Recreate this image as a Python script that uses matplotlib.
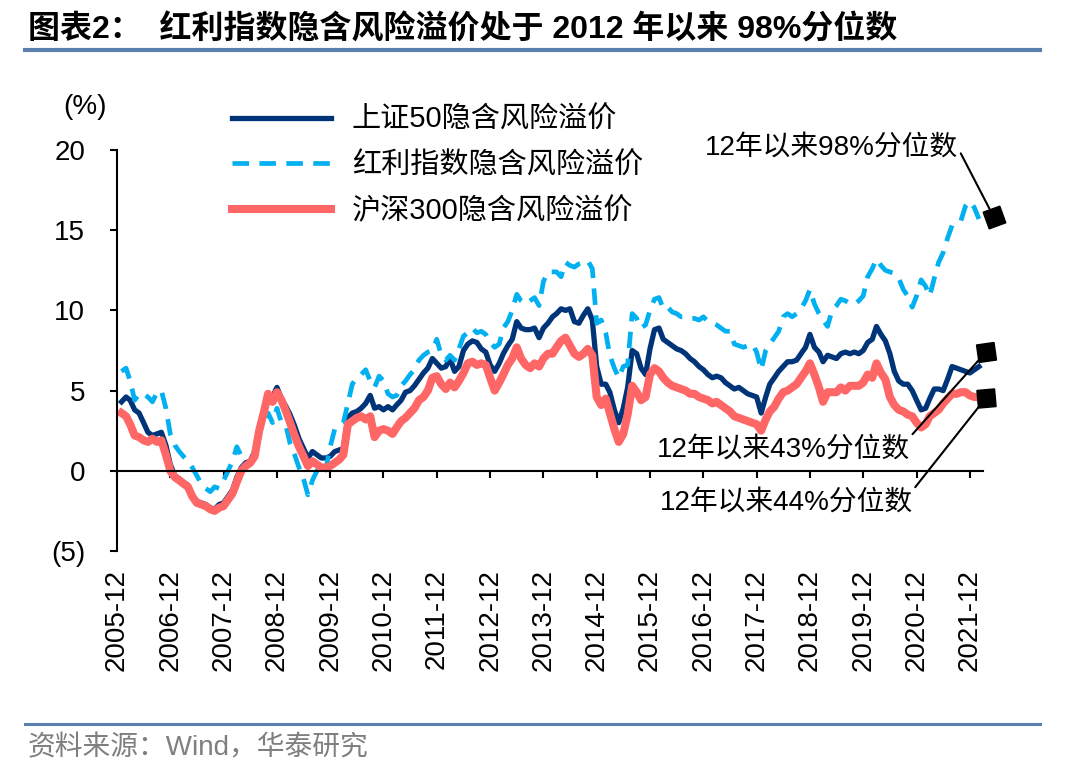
import matplotlib
matplotlib.use("Agg")
import matplotlib.pyplot as plt
import pandas as pd
from matplotlib.lines import Line2D

plt.rcParams["font.family"] = ["Liberation Sans", "Noto Sans CJK SC"]

# monthly readings, 2006-01 .. 2022-02 (%)
sse50 = [
    4.3, 4.6, 4.4, 3.8, 3.6, 3.0, 2.4, 2.2, 2.3, 2.4, 1.6, 0.4,
    -0.3, -0.5, -0.7, -0.9, -1.6, -1.9, -2.0, -2.1, -2.3, -2.4, -2.1, -2.0,
    -1.6, -1.2, -0.4, 0.2, 0.5, 0.6, 1.2, 2.6, 3.7, 4.5, 4.6, 5.2,
    4.5, 4.0, 3.5, 2.8, 2.0, 1.4, 0.8, 1.2, 1.0, 0.8, 0.8, 0.9,
    1.2, 1.3, 1.4, 3.3, 3.6, 3.7, 3.9, 4.2, 4.7, 3.9, 4.0, 3.8,
    4.0, 3.8, 4.1, 4.4, 4.9, 5.0, 5.3, 5.7, 6.1, 6.4, 7.0, 6.7,
    6.4, 6.5, 7.0, 6.2, 6.5, 7.5, 7.9, 8.1, 8.0, 7.6, 7.4, 6.6,
    6.2, 6.7, 7.3, 7.8, 8.2, 9.3, 8.9, 8.8, 8.8, 8.9, 8.3, 8.9,
    9.2, 9.6, 9.8, 10.1, 10.0, 10.1, 9.3, 9.2, 9.7, 10.1, 9.4, 6.5,
    5.4, 5.4, 4.9, 3.8, 3.0, 3.9, 5.2, 7.5, 7.3, 6.4, 6.0, 7.6,
    8.8, 8.9, 8.2, 8.0, 7.8, 7.6, 7.5, 7.3, 7.0, 6.8, 6.5, 6.3,
    6.0, 5.8, 5.9, 5.8, 5.5, 5.3, 5.1, 5.2, 5.0, 4.8, 4.7, 4.6,
    3.6, 4.6, 5.4, 5.8, 6.2, 6.5, 6.8, 6.8, 6.9, 7.3, 7.7, 8.5,
    7.7, 7.4, 6.8, 7.2, 7.1, 7.0, 7.3, 7.4, 7.3, 7.4, 7.3, 7.5,
    8.0, 8.2, 9.0, 8.5, 8.1, 7.3, 6.2, 5.6, 5.4, 5.4, 5.0, 4.4,
    3.8, 3.9, 4.5, 5.1, 5.1, 5.0, 5.7, 6.5, 6.4, 6.3, 6.2, 6.1,
    6.3, 6.5,
]
dividend = [
    6.2, 6.4, 5.6, 4.4, 4.8, 4.8, 4.6, 4.3, 4.9, 5.0, 3.9, 2.3,
    1.6, 1.2, 0.9, 0.6, 0.2, -0.3, -0.8, -1.1, -1.3, -1.0, -1.1, -0.6,
    0.0, 0.6, 1.5, 0.9, 0.6, 0.4, 0.9, 2.2, 3.2, 3.6, 3.0, 3.9,
    3.0, 2.8, 1.7, 1.0, 0.2, -0.5, -1.5, -0.6, 0.0, -0.3, 0.1, 1.5,
    2.6, 2.8, 3.0, 4.2, 5.4, 5.8, 6.0, 6.3, 5.6, 5.2, 5.9, 5.6,
    4.8, 4.6, 4.7, 5.3, 5.6, 6.0, 6.3, 6.9, 7.2, 7.4, 7.5, 8.2,
    7.2, 6.9, 7.2, 6.9, 7.6, 8.4, 8.6, 8.9, 8.6, 8.7, 8.5, 8.0,
    7.7, 7.9, 8.9, 9.3, 10.0, 11.0, 10.6, 10.4, 10.6, 10.8, 10.3, 11.8,
    12.4, 12.4, 12.4, 12.1, 13.0, 12.8, 12.7, 12.9, 13.0, 13.1, 12.6, 9.2,
    9.4, 8.6, 7.2, 6.4, 5.8, 6.5, 6.6, 9.8, 9.5, 8.9, 9.1, 10.0,
    10.7, 10.8, 10.1, 10.2, 9.9, 9.8, 9.6, 9.6, 9.5, 9.5, 9.4, 9.6,
    9.3, 9.2, 9.1, 8.9, 8.7, 8.7, 7.9, 7.8, 7.7, 7.8, 7.9, 7.4,
    6.3, 7.5, 7.9, 8.3, 8.7, 9.6, 9.8, 9.6, 9.8, 10.1, 10.6, 11.3,
    10.4, 9.8, 9.4, 9.0, 10.0, 10.3, 10.7, 10.6, 10.4, 10.4, 10.6, 10.9,
    12.1, 12.6, 13.2, 12.8, 12.5, 12.4, 12.3, 12.0, 11.3, 10.9, 10.2, 10.9,
    11.9, 11.5, 10.9, 12.0, 13.0, 13.6, 14.5, 15.3, 15.5, 15.6, 16.5, 16.8,
    16.4, 15.7,
]
csi300 = [
    3.6, 3.4, 2.9, 2.2, 2.1, 1.9, 1.8, 2.0, 1.8, 1.9, 1.0, 0.0,
    -0.4, -0.6, -0.8, -1.0, -1.6, -2.0, -2.1, -2.2, -2.4, -2.5, -2.3, -2.2,
    -1.8, -1.4, -0.7, 0.0, 0.3, 0.5, 0.9, 2.5, 3.6, 4.8, 4.3, 4.9,
    4.4, 3.7, 3.0, 2.2, 1.5, 0.9, 0.3, 0.6, 0.4, 0.2, 0.2, 0.3,
    0.5, 0.7, 1.0, 2.9, 3.1, 3.3, 3.4, 3.2, 3.4, 2.1, 2.5, 2.6,
    2.5, 2.3, 2.7, 3.1, 3.3, 3.6, 3.9, 4.4, 4.6, 5.0, 5.8, 5.9,
    5.4, 5.1, 5.5, 5.2, 5.6, 6.1, 6.7, 6.8, 6.6, 6.7, 6.6, 5.8,
    5.0, 5.5, 6.0, 6.6, 7.0, 7.7, 7.0, 6.6, 6.4, 6.7, 6.5, 7.0,
    7.3, 7.3, 7.7, 8.1, 8.3, 7.8, 7.3, 7.1, 7.3, 7.6, 7.2, 4.6,
    4.1, 4.5, 3.6, 2.6, 1.8, 2.3, 3.5, 5.3, 4.9, 4.4, 4.6, 6.0,
    6.4, 6.2, 5.8, 5.5, 5.3, 5.2, 5.1, 5.0, 4.8, 4.8, 4.6, 4.5,
    4.4, 4.2, 4.3, 4.1, 3.9, 3.7, 3.4, 3.3, 3.2, 3.1, 3.0, 2.9,
    2.5, 3.2, 3.7, 4.0, 4.5, 4.9, 5.0, 5.2, 5.4, 5.8, 6.2, 6.7,
    6.0, 5.2, 4.3, 4.9, 4.9, 4.9, 5.2, 5.0, 5.3, 5.3, 5.3, 5.5,
    6.0, 5.8, 6.7, 6.1, 5.7, 4.6, 4.1, 3.8, 3.7, 3.5, 3.4, 3.0,
    2.7, 2.9, 3.4, 3.6, 3.8, 4.2, 4.5, 4.8, 4.8, 4.9, 4.9, 4.7,
    4.6, 4.6,
]

series_names = ["上证50隐含风险溢价", "红利指数隐含风险溢价", "沪深300隐含风险溢价"]
tick_years = list(range(2005, 2022))
y_ticks = [-5, 0, 5, 10, 15, 20]
y_tick_labels = ["(5)", "0", "5", "10", "15", "20"]

# callouts: label and height of the square
notes = ["12年以来98%分位数", "12年以来43%分位数", "12年以来44%分位数"]
note_y = [15.8, 7.4, 4.55]

dates = pd.date_range("2006-01-01", periods=len(sse50), freq="MS")

fig = plt.figure(figsize=(10.8, 7.71), dpi=100)
ax = fig.add_axes([117 / 1080, 1 - 551 / 771, 866 / 1080, 401 / 771])

l1, = ax.plot(dates, sse50, color="#003478", lw=3.8, solid_joinstyle="round")
l2, = ax.plot(dates, dividend, color="#00b0f0", lw=3.4, dashes=(3.5, 2.2))
l3, = ax.plot(dates, csi300, color="#ff6666", lw=5.8, solid_joinstyle="round")

ax.set_xlim(pd.Timestamp("2005-12-01"), pd.Timestamp("2022-03-01"))
ax.set_ylim(-5, 20)
ax.set_yticks(y_ticks)
ax.set_yticklabels(y_tick_labels)
ax.set_xticks([pd.Timestamp(f"{y}-12-01") for y in tick_years])
ax.set_xticklabels([f"{y}-12" for y in tick_years])

for side in ["top", "right"]:
    ax.spines[side].set_visible(False)
ax.spines["bottom"].set_position(("data", 0))
ax.spines["bottom"].set_linewidth(1.5)
ax.spines["left"].set_linewidth(1.5)
ax.tick_params(axis="x", direction="out", length=5, width=1.5, labelsize=20,
               pad=66, labelrotation=90)
ax.tick_params(axis="y", direction="out", length=5, width=1.5, labelsize=20, pad=18)

fig.text(85 / 1080, 1 - 107 / 771, "(%)", fontsize=20, ha="center", va="center")

fig.legend([l1, l2, l3], series_names, loc="upper left",
           bbox_to_anchor=(232 / 1080, 1 - 106 / 771), frameon=False,
           fontsize=21, handlelength=3.4, handletextpad=0.7,
           labelspacing=0.6, borderpad=0, borderaxespad=0)

# callout squares and leader lines
offsets = [pd.DateOffset(days=103), pd.DateOffset(days=48), pd.DateOffset(days=48)]
angles = [65, 53, 50]
text_pos = [(958, 771 - 148), (910, 771 - 450), (913, 771 - 503)]
rel = [(1, 0.5), (1, 1), (1, 1)]
for note, yv, off, ang, pos, rp in zip(notes, note_y, offsets, angles, text_pos, rel):
    xv = dates[-1] + off
    ax.plot([xv], [yv], marker=(4, 0, ang), markersize=18, color="black",
            clip_on=False, zorder=5)
    ax.annotate(note, xy=(xv, yv), xycoords="data", xytext=pos,
                textcoords="figure pixels", ha="right", va="center",
                fontsize=20, annotation_clip=False,
                arrowprops=dict(arrowstyle="-", color="black", lw=1.5,
                                shrinkA=0, shrinkB=7, relpos=rp))

fig.text(28 / 1080, 1 - 30 / 771,
         "图表2：  红利指数隐含风险溢价处于 2012 年以来 98%分位数",
         fontsize=23, fontweight="bold", ha="left", va="center")
fig.add_artist(Line2D([25 / 1080, 1040 / 1080], [1 - 50 / 771] * 2,
                      transform=fig.transFigure, color="#5b7fae", lw=3))
fig.add_artist(Line2D([25 / 1080, 1040 / 1080], [1 - 724 / 771] * 2,
                      transform=fig.transFigure, color="#5b7fae", lw=2.2))
fig.text(28 / 1080, 1 - 748 / 771, "资料来源：Wind，华泰研究", fontsize=20,
         color="#7f7f7f", ha="left", va="center")

fig.savefig("out.png", dpi=100)
